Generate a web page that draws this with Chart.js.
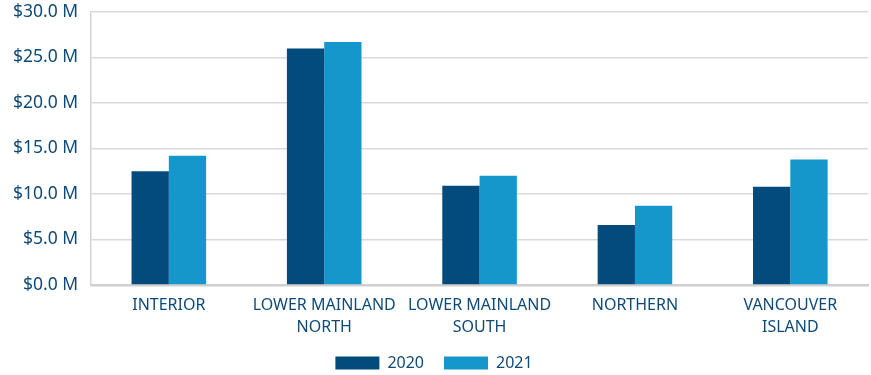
<!DOCTYPE html>
<html><head><meta charset="utf-8">
<script src="https://cdn.jsdelivr.net/npm/chart.js@4"></script>
<style>html,body{margin:0;padding:0;background:#fff}#w{width:871px;height:375px}</style>
</head><body><div id="w"><canvas id="c"></canvas></div>
<script>
const categories = [["INTERIOR"], ["LOWER MAINLAND", "NORTH"], ["LOWER MAINLAND", "SOUTH"], ["NORTHERN"], ["VANCOUVER", "ISLAND"]];
const seriesNames = ["2020", "2021"];
const values2020 = [12.5, 26.0, 10.9, 6.6, 10.8];
const values2021 = [14.2, 26.7, 12.0, 8.7, 13.8];
const yTicks = [0, 5, 10, 15, 20, 25, 30];
const txt = '#0e4a78';
Chart.defaults.font.family = "'Noto Sans', sans-serif";
new Chart(document.getElementById('c'), {
  type: 'bar',
  data: { labels: categories, datasets: [
    { label: seriesNames[0], data: values2020, backgroundColor: '#024b7c', categoryPercentage: 0.48, barPercentage: 1 },
    { label: seriesNames[1], data: values2021, backgroundColor: '#1597cc', categoryPercentage: 0.48, barPercentage: 1 }
  ]},
  options: {
    responsive: true, maintainAspectRatio: false, animation: false,
    layout: { padding: { top: 12, right: 3, left: 0, bottom: -6 } },
    plugins: {
      legend: { position: 'bottom', labels: { color: txt, font: { size: 16 }, boxWidth: 44, boxHeight: 13, padding: 20 } },
      tooltip: { enabled: false }
    },
    scales: {
      x: { grid: { display: false, drawTicks: false }, border: { color: '#cfcfcf', width: 2.5 },
           afterFit: s => { s.height = 50; },
           ticks: { color: txt, font: { size: 16, lineHeight: 1.375 }, padding: 9, maxRotation: 0, autoSkip: false } },
      y: { min: 0, max: 30, afterBuildTicks: a => { a.ticks = yTicks.map(v => ({ value: v })); },
           afterFit: s => { s.paddingTop = 0; },
           grid: { color: '#d9d9d9', lineWidth: 1.5, drawTicks: false },
           border: { color: '#d4d4d4', width: 1.5 },
           ticks: { color: txt, font: { size: 17.5 }, padding: 13, callback: v => '$' + Number(v).toFixed(1) + ' M' } }
    }
  }
});
</script></body></html>
